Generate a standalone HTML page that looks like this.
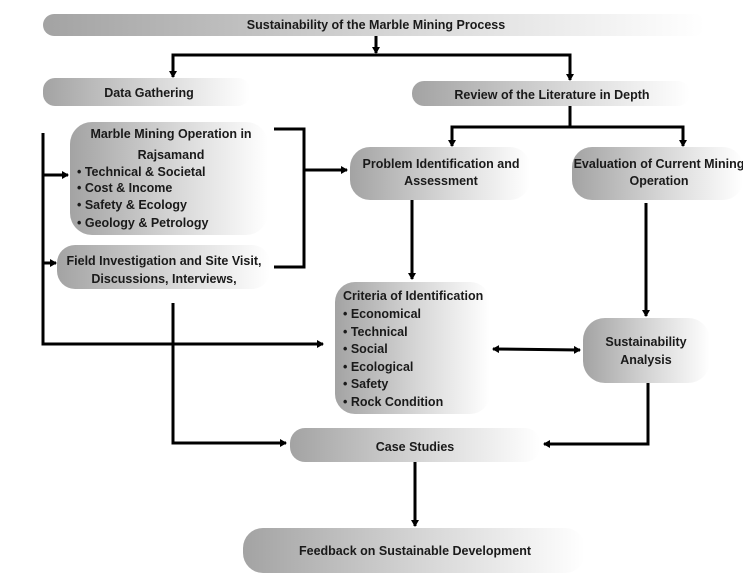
<!DOCTYPE html>
<html><head><meta charset="utf-8"><style>
body{margin:0;background:#fff;}
svg text{font-family:"Liberation Sans Narrow","Liberation Sans",sans-serif;font-weight:bold;font-size:12.5px;fill:#1a1a1a;}
</style></head><body>
<svg width="743" height="581" viewBox="0 0 743 581" xmlns="http://www.w3.org/2000/svg">
<defs>
<linearGradient id="g" x1="0" y1="0" x2="1" y2="0">
<stop offset="0" stop-color="#a3a3a3"/><stop offset="0.55" stop-color="#d8d8d8"/><stop offset="1" stop-color="#ffffff"/>
</linearGradient>
<marker id="a" markerWidth="8" markerHeight="8" refX="6" refY="4" orient="auto" markerUnits="userSpaceOnUse"><path d="M0,0 L7,4 L0,8 Z" fill="#000"/></marker>
<marker id="b" markerWidth="8" markerHeight="8" refX="1" refY="4" orient="auto" markerUnits="userSpaceOnUse"><path d="M7,0 L0,4 L7,8 Z" fill="#000"/></marker>
</defs>
<!-- boxes -->
<rect x="43" y="14" width="662" height="22" rx="11" fill="url(#g)"/>
<rect x="43" y="78" width="207" height="28" rx="12" fill="url(#g)"/>
<rect x="412" y="81" width="278" height="25" rx="12" fill="url(#g)"/>
<rect x="70" y="122" width="198" height="113" rx="22" fill="url(#g)"/>
<rect x="57" y="245" width="213" height="44" rx="18" fill="url(#g)"/>
<rect x="350" y="147" width="180" height="53" rx="20" fill="url(#g)"/>
<rect x="572" y="147" width="171" height="53" rx="20" fill="url(#g)"/>
<rect x="335" y="282" width="155" height="132" rx="20" fill="url(#g)"/>
<rect x="583" y="318" width="127" height="65" rx="22" fill="url(#g)"/>
<rect x="290" y="428" width="250" height="34" rx="15" fill="url(#g)"/>
<rect x="243" y="528" width="342" height="45" rx="20" fill="url(#g)"/>
<!-- lines -->
<g stroke="#000" stroke-width="3" fill="none">
<line x1="376" y1="36" x2="376" y2="53" marker-end="url(#a)"/>
<polyline points="173,76 173,55 570,55 570,79" />
<line x1="173" y1="60" x2="173" y2="77" marker-end="url(#a)"/>
<line x1="570" y1="60" x2="570" y2="80" marker-end="url(#a)"/>
<polyline points="43,133 43,344 323,344" marker-end="url(#a)"/>
<line x1="43" y1="175" x2="68" y2="175" marker-end="url(#a)"/>
<line x1="43" y1="263" x2="56" y2="263" marker-end="url(#a)"/>
<polyline points="274,129 304,129 304,267 274,267"/>
<line x1="304" y1="170" x2="347" y2="170" marker-end="url(#a)"/>
<line x1="570" y1="106" x2="570" y2="127"/>
<polyline points="452,145 452,127 683,127 683,145"/>
<line x1="452" y1="130" x2="452" y2="146" marker-end="url(#a)"/>
<line x1="683" y1="130" x2="683" y2="146" marker-end="url(#a)"/>
<line x1="412" y1="200" x2="412" y2="279" marker-end="url(#a)"/>
<line x1="646" y1="203" x2="646" y2="316" marker-end="url(#a)"/>
<line x1="493" y1="349" x2="580" y2="350" marker-start="url(#b)" marker-end="url(#a)"/>
<polyline points="173,303 173,443 286,443" marker-end="url(#a)"/>
<polyline points="648,383 648,444 544,444" marker-end="url(#a)"/>
<line x1="415" y1="462" x2="415" y2="526" marker-end="url(#a)"/>
</g>
<!-- text -->
<g text-anchor="middle">
<text x="376" y="29">Sustainability of the Marble Mining Process</text>
<text x="149" y="97">Data Gathering</text>
<text x="552" y="99">Review of the Literature in Depth</text>
<text x="171" y="138">Marble Mining Operation in</text>
<text x="171" y="159">Rajsamand</text>
<text x="164" y="265">Field Investigation and Site Visit,</text>
<text x="164" y="283">Discussions, Interviews,</text>
<text x="441" y="168">Problem Identification and</text>
<text x="441" y="185">Assessment</text>
<text x="659" y="168">Evaluation of Current Mining</text>
<text x="659" y="185">Operation</text>
<text x="646" y="346">Sustainability</text>
<text x="646" y="364">Analysis</text>
<text x="415" y="451">Case Studies</text>
<text x="415" y="555">Feedback on Sustainable Development</text>
</g>
<g>
<text x="77" y="176">•  Technical &amp; Societal</text>
<text x="77" y="192">•  Cost &amp; Income</text>
<text x="77" y="209">•  Safety &amp; Ecology</text>
<text x="77" y="227">•  Geology &amp; Petrology</text>
<text x="343" y="300">Criteria of Identification</text>
<text x="343" y="318">•  Economical</text>
<text x="343" y="336">•  Technical</text>
<text x="343" y="353">•  Social</text>
<text x="343" y="371">•  Ecological</text>
<text x="343" y="388">•  Safety</text>
<text x="343" y="406">•  Rock Condition</text>
</g>
</svg>
</body></html>
